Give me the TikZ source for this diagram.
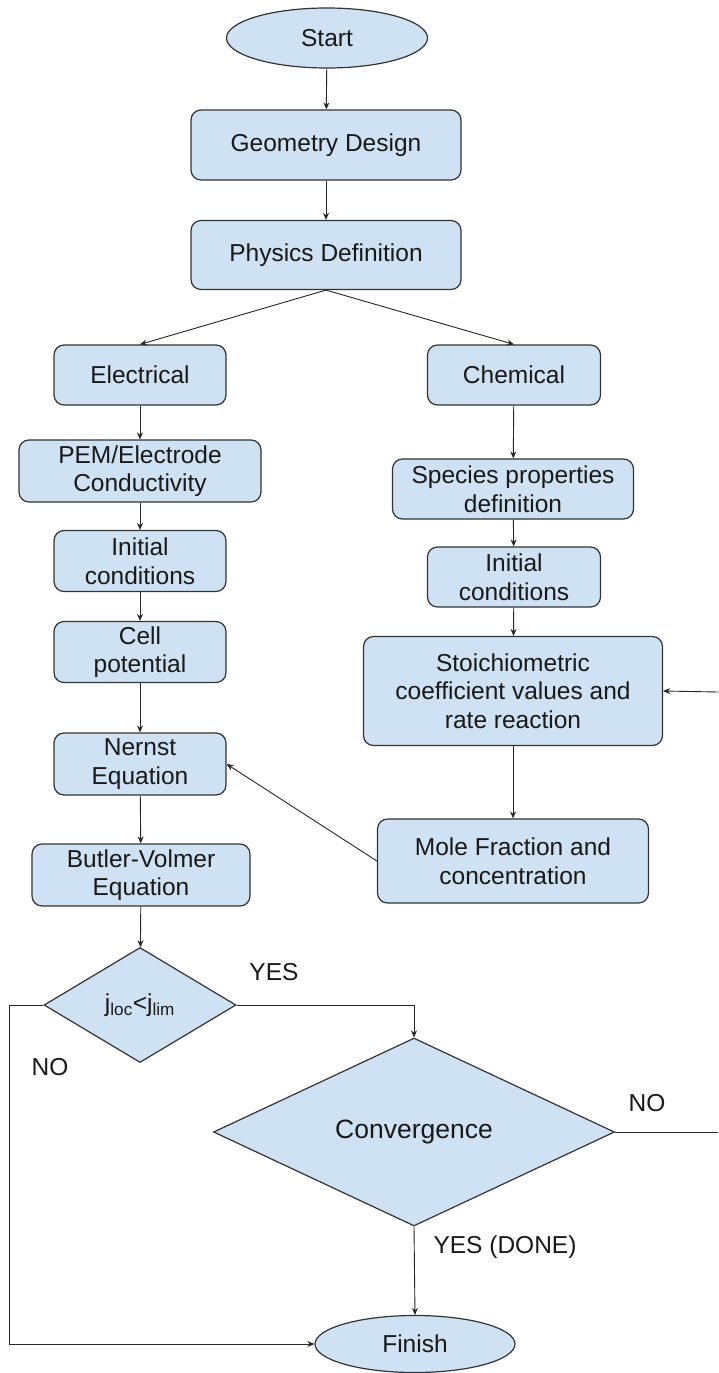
\documentclass[tikz,border=0pt]{standalone}
\usepackage{fontspec}
\setmainfont{Liberation Sans}
\usetikzlibrary{shapes.geometric,arrows.meta,calc}
\definecolor{boxfill}{HTML}{CFE2F3}
\definecolor{boxline}{HTML}{333333}
\begin{document}
\begin{tikzpicture}[x=1pt,y=-1pt,
  every node/.style={font=\fontsize{24.5}{28.5}\selectfont, text=black!90},
  procbox/.style={draw=boxline, line width=1.2pt, fill=boxfill, rounded corners=10pt,
    align=center, inner sep=0pt},
  term/.style={draw=boxline, line width=1.2pt, fill=boxfill, ellipse, inner sep=0pt},
  decision/.style={draw=boxline, line width=1.2pt, fill=boxfill, diamond, inner sep=0pt},
  link/.style={draw=black!85, line width=0.9pt, -{Stealth[length=7pt,width=6pt]}},
  plain/.style={draw=black!85, line width=0.9pt},
  lbl/.style={inner sep=0pt}
]
\useasboundingbox (0,0) rectangle (718,1373);
\fill[white] (0,0) rectangle (718,1373);

\node[term, minimum width=201pt, minimum height=60pt] (start) at (327,38) {Start};
\node[procbox, minimum width=270pt, minimum height=70pt] (geo) at (326,145) {Geometry Design};
\node[procbox, minimum width=270pt, minimum height=69pt] (phys) at (326,255) {Physics Definition};
\node[procbox, minimum width=172pt, minimum height=60pt] (elec) at (140,375) {Electrical};
\node[procbox, minimum width=173pt, minimum height=60pt] (chem) at (514,375) {Chemical};
\node[procbox, minimum width=242pt, minimum height=62pt] (pem) at (140,471) {PEM/Electrode\\Conductivity};
\node[procbox, minimum width=241pt, minimum height=60pt] (spec) at (513,489) {Species properties\\definition};
\node[procbox, minimum width=172pt, minimum height=61pt] (initL) at (140,561) {Initial\\conditions};
\node[procbox, minimum width=173pt, minimum height=60pt] (initR) at (514,577) {Initial\\conditions};
\node[procbox, minimum width=172pt, minimum height=61pt] (cell) at (140,652) {Cell\\potential};
\node[procbox, minimum width=299pt, minimum height=109pt] (stoi) at (513,691) {Stoichiometric\\coefficient values and\\rate reaction};
\node[procbox, minimum width=172pt, minimum height=62pt] (nern) at (140,764) {Nernst\\Equation};
\node[procbox, minimum width=218pt, minimum height=62pt] (butl) at (141,875) {Butler-Volmer\\Equation};
\node[procbox, minimum width=271pt, minimum height=84pt] (mole) at (513,861) {Mole Fraction and\\concentration};
\node[decision, minimum width=192pt, minimum height=115pt] (dec) at (140,1005)
  {j\textsubscript{loc}<j\textsubscript{lim}};
\node[decision, minimum width=401pt, minimum height=188pt, font=\fontsize{26.5}{30}\selectfont] (conv) at (414,1132) {Convergence};
\node[term, minimum width=200pt, minimum height=57pt] (fin) at (415,1344) {Finish};

\node[lbl] (yes1) at (274,972) {YES};
\node[lbl] (no1) at (50,1067) {NO};
\node[lbl] (no2) at (647,1103) {NO};
\node[lbl] (yes2) at (505,1247) {YES (DONE)};

\coordinate (rEdgeA) at (718,1132);
\coordinate (rEdgeB) at (718,692);

\draw[link] (start) -- (geo);
\draw[link] (geo) -- (phys);
\draw[link] (phys.south) -- (elec.north);
\draw[link] (phys.south) -- (chem.north);
\draw[link] (elec) -- (pem);
\draw[link] (pem) -- (initL);
\draw[link] (initL) -- (cell);
\draw[link] (cell) -- (nern);
\draw[link] (nern) -- (butl);
\draw[link] (butl) -- (dec);
\draw[link] (chem) -- (spec);
\draw[link] (spec) -- (initR);
\draw[link] (initR) -- (stoi);
\draw[link] (stoi) -- (mole);
\draw[link] (mole.west) -- (nern.east);
\draw[link] (dec.east) -| (conv.north);
\draw[link] (dec.west) -- ++(-34,0) |- (fin.west);
\draw[link] (conv.south) -- (fin.north);
\draw[plain] (conv.east) -- (rEdgeA);
\draw[link] (rEdgeB) -- (stoi.east);
\end{tikzpicture}
\end{document}
